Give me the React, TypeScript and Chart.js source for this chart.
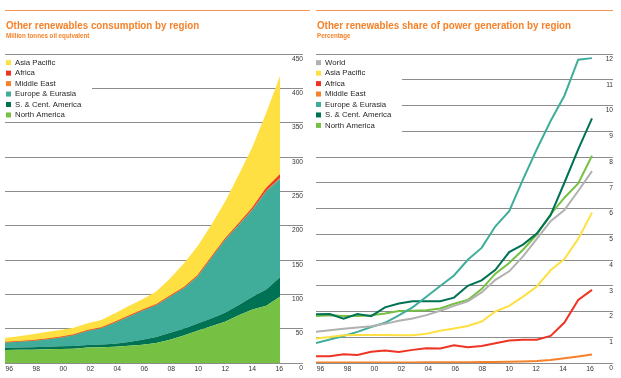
import React, { useEffect, useRef } from 'react';
import { Chart, registerables } from 'chart.js';

Chart.register(...registerables);

const FONT = '"Liberation Sans", Arial, sans-serif';

const years = [1996, 1997, 1998, 1999, 2000, 2001, 2002, 2003, 2004, 2005, 2006, 2007, 2008, 2009, 2010, 2011, 2012, 2013, 2014, 2015, 2016];

// Left: Other renewables consumption by region (Million tonnes oil equivalent)
const consNorthAmerica = [19.0, 19.2, 19.4, 19.9, 20.4, 20.9, 22.5, 23.0, 23.8, 25.0, 26.5, 29.0, 34.0, 40.0, 46.8, 53.6, 60.0, 69.5, 78.0, 83.5, 96.5];
const consSCAmerica = [3.3, 3.3, 3.4, 3.6, 3.9, 3.9, 3.7, 4.0, 4.4, 5.5, 7.5, 9.0, 9.9, 10.0, 10.7, 11.2, 13.0, 14.8, 18.5, 23.5, 28.2];
const consEurope = [7.3, 8.3, 9.2, 10.8, 12.6, 15.5, 20.4, 23.5, 30.5, 37.0, 42.0, 46.0, 52.6, 58.7, 68.2, 87.7, 106.0, 116.7, 126.5, 143.0, 143.8];
const consMiddleEast = [0.0, 0.0, 0.0, 0.0, 0.0, 0.0, 0.0, 0.0, 0.0, 0.0, 0.0, 0.0, 0.1, 0.1, 0.1, 0.1, 0.2, 0.3, 0.4, 0.6, 0.9];
const consAfrica = [0.5, 0.5, 0.6, 0.6, 0.7, 0.8, 0.8, 0.9, 0.9, 1.0, 1.1, 1.1, 1.1, 1.2, 1.3, 1.4, 1.5, 1.8, 2.6, 4.0, 5.0];
const consAsiaPacific = [6.3, 7.7, 9.1, 10.1, 10.4, 10.4, 10.4, 11.2, 12.7, 14.5, 15.9, 18.9, 25.3, 35.0, 42.9, 47.0, 54.3, 70.9, 89.0, 109.9, 143.6];

// Right: Other renewables share of power generation by region (Percentage)
const shareWorld = [1.21, 1.27, 1.33, 1.38, 1.43, 1.52, 1.64, 1.73, 1.86, 2.03, 2.22, 2.39, 2.74, 3.23, 3.56, 4.14, 4.82, 5.51, 5.94, 6.68, 7.45];
const shareAsiaPacific = [0.95, 1.01, 1.08, 1.09, 1.09, 1.09, 1.08, 1.08, 1.14, 1.25, 1.34, 1.44, 1.61, 2.0, 2.22, 2.58, 2.97, 3.6, 4.04, 4.82, 5.84];
const shareAfrica = [0.26, 0.26, 0.34, 0.31, 0.44, 0.49, 0.43, 0.51, 0.57, 0.56, 0.69, 0.61, 0.66, 0.77, 0.87, 0.9, 0.9, 1.05, 1.57, 2.45, 2.84];
const shareMiddleEast = [0.02, 0.02, 0.02, 0.02, 0.02, 0.02, 0.02, 0.02, 0.03, 0.03, 0.03, 0.03, 0.04, 0.04, 0.05, 0.06, 0.08, 0.12, 0.18, 0.25, 0.33];
const shareEurope = [0.78, 0.91, 1.05, 1.21, 1.4, 1.56, 1.85, 2.16, 2.57, 2.99, 3.4, 4.01, 4.47, 5.31, 5.9, 7.13, 8.3, 9.4, 10.38, 11.78, 11.84];
const shareSCAmerica = [1.89, 1.9, 1.72, 1.9, 1.82, 2.16, 2.31, 2.4, 2.4, 2.4, 2.54, 3.0, 3.21, 3.62, 4.31, 4.6, 5.03, 5.74, 7.0, 8.3, 9.5];
const shareNorthAmerica = [1.83, 1.85, 1.83, 1.83, 1.85, 1.92, 2.02, 2.03, 2.05, 2.12, 2.3, 2.45, 2.87, 3.47, 3.88, 4.4, 4.99, 5.77, 6.42, 6.97, 8.05];

const C_ASIA = '#ffe043';
const C_AFRICA = '#ee3524';
const C_ME = '#f5822a';
const C_EUROPE = '#40ad9b';
const C_SCA = '#007254';
const C_NA = '#76c044';
const C_WORLD = '#b1b1b1';
const ORANGE = '#f5822a';

const yearLabel = (v: number) => String(Math.round(v) % 100).padStart(2, '0');
const pts = (d: number[]) => years.map((x, i) => ({ x, y: d[i] }));

function makeLegendPlugin(order: number[], coverRight: number, coverTop: number, coverBottom: number) {
  return {
    id: 'panelLegend',
    beforeDatasetsDraw(chart: any) {
      const ctx = chart.ctx;
      const a = chart.chartArea;
      ctx.save();
      ctx.fillStyle = '#ffffff';
      ctx.fillRect(a.left - 1, coverTop, coverRight - a.left + 1, coverBottom - coverTop);
      ctx.restore();
    },
    afterDatasetsDraw(chart: any) {
      const ctx = chart.ctx;
      ctx.save();
      ctx.font = `7.8px ${FONT}`;
      ctx.textBaseline = 'middle';
      ctx.textAlign = 'left';
      order.forEach((di, i) => {
        const ds = chart.data.datasets[di];
        const y = 62.7 + i * 10.45;
        ctx.fillStyle = ds.backgroundColor;
        ctx.fillRect(6, y - 2.5, 5, 5);
        ctx.fillStyle = '#231f20';
        ctx.fillText(ds.label, 15, y);
      });
      ctx.restore();
    },
  };
}

function yScale(max: number, step: number, stacked: boolean) {
  return {
    type: 'linear',
    position: 'right',
    stacked,
    min: 0,
    max,
    grid: { color: '#8c8c8c', lineWidth: 1, drawTicks: false },
    border: { display: false },
    ticks: {
      stepSize: step,
      mirror: true,
      padding: 0,
      labelOffset: 5,
      color: '#333333',
      font: { family: FONT, size: 6.6 },
    },
    afterFit: (s: any) => { s.width = 0; },
  };
}

function labelAxis(min: number, max: number) {
  return {
    type: 'linear',
    position: 'bottom',
    min,
    max,
    grid: { display: false, drawTicks: false },
    border: { display: false },
    ticks: {
      stepSize: 2,
      includeBounds: false,
      autoSkip: false,
      maxRotation: 0,
      padding: 2,
      color: '#333333',
      font: { family: FONT, size: 6.8 },
      callback: (v: any) => yearLabel(Number(v)),
    },
    afterFit: (s: any) => { s.height = 15; },
  };
}

function buildLeft(): any {
  const area = (label: string, data: number[], color: string, fill: any, bw = 0) => ({
    label,
    data: pts(data),
    backgroundColor: color,
    borderColor: color,
    borderWidth: bw,
    pointRadius: 0,
    tension: 0,
    fill,
    xAxisID: 'x',
    yAxisID: 'y',
  });
  return {
    type: 'line',
    data: {
      datasets: [
        area('North America', consNorthAmerica, C_NA, 'origin'),
        area('S. & Cent. America', consSCAmerica, C_SCA, '-1'),
        area('Europe & Eurasia', consEurope, C_EUROPE, '-1'),
        area('Middle East', consMiddleEast, C_ME, '-1', 0.6),
        area('Africa', consAfrica, C_AFRICA, '-1', 0.8),
        area('Asia Pacific', consAsiaPacific, C_ASIA, '-1'),
      ],
    },
    options: {
      animation: false,
      responsive: false,
      devicePixelRatio: 1,
      layout: { padding: { top: 54, left: 5, right: 7, bottom: 0 } },
      plugins: { legend: { display: false }, tooltip: { enabled: false } },
      scales: {
        x: { type: 'linear', display: false, min: 1996, max: 2017.673 },
        xl: labelAxis(1995.681, 2017.756),
        y: yScale(450, 50, true),
      },
    },
    plugins: [makeLegendPlugin([5, 4, 3, 2, 1, 0], 92, 57, 120)],
  };
}

function buildRight(): any {
  const line = (label: string, data: number[], color: string) => ({
    label,
    data: pts(data),
    backgroundColor: color,
    borderColor: color,
    borderWidth: 2,
    pointRadius: 0,
    tension: 0,
    fill: false,
    xAxisID: 'x',
    yAxisID: 'y',
  });
  return {
    type: 'line',
    data: {
      datasets: [
        line('World', shareWorld, C_WORLD),
        line('Asia Pacific', shareAsiaPacific, C_ASIA),
        line('Africa', shareAfrica, C_AFRICA),
        line('Middle East', shareMiddleEast, C_ME),
        line('Europe & Eurasia', shareEurope, C_EUROPE),
        line('S. & Cent. America', shareSCAmerica, C_SCA),
        line('North America', shareNorthAmerica, C_NA),
      ],
    },
    options: {
      animation: false,
      responsive: false,
      devicePixelRatio: 1,
      layout: { padding: { top: 54, left: 6, right: 8, bottom: 0 } },
      plugins: { legend: { display: false }, tooltip: { enabled: false } },
      scales: {
        x: { type: 'linear', display: false, min: 1996, max: 2017.522 },
        xl: labelAxis(1995.666, 2017.706),
        y: yScale(12, 1, false),
      },
    },
    plugins: [makeLegendPlugin([0, 1, 2, 3, 4, 5, 6], 92, 57, 140)],
  };
}

function ChartCanvas({ width, height, build }: { width: number; height: number; build: () => any }) {
  const ref = useRef<HTMLCanvasElement>(null);
  useEffect(() => {
    const chart = new Chart(ref.current as HTMLCanvasElement, build());
    return () => chart.destroy();
  }, []);
  return (
    <canvas
      ref={ref}
      width={width}
      height={height}
      style={{ position: 'absolute', left: 0, top: 0, width, height, display: 'block' }}
    />
  );
}

function Header({ left, width, title, subtitle }: { left: number; width: number; title: string; subtitle: string }) {
  return (
    <>
      <div style={{ position: 'absolute', left, top: 10, width, height: 1, background: '#f79552' }} />
      <div
        style={{
          position: 'absolute', left: left + 1, top: 19.7, fontFamily: FONT, fontWeight: 'bold',
          fontSize: 11, lineHeight: '11px', color: ORANGE, whiteSpace: 'nowrap',
          transform: 'scaleX(0.89)', transformOrigin: 'left top',
        }}
      >
        {title}
      </div>
      <div
        style={{
          position: 'absolute', left: left + 1, top: 31.8, fontFamily: FONT, fontWeight: 'bold',
          fontSize: 7, lineHeight: '7px', color: ORANGE, whiteSpace: 'nowrap',
          transform: 'scaleX(0.89)', transformOrigin: 'left top',
        }}
      >
        {subtitle}
      </div>
    </>
  );
}

export default function App() {
  return (
    <div style={{ position: 'absolute', left: 0, top: 0, width: 621, height: 378, background: '#fff', overflow: 'hidden' }}>
      <div style={{ position: 'absolute', left: 0, top: 0, width: 310, height: 378 }}>
        <ChartCanvas width={310} height={378} build={buildLeft} />
        <Header left={5} width={305} title="Other renewables consumption by region" subtitle="Million tonnes oil equivalent" />
      </div>
      <div style={{ position: 'absolute', left: 310, top: 0, width: 311, height: 378 }}>
        <ChartCanvas width={311} height={378} build={buildRight} />
        <Header left={6} width={297} title="Other renewables share of power generation by region" subtitle="Percentage" />
      </div>
    </div>
  );
}
